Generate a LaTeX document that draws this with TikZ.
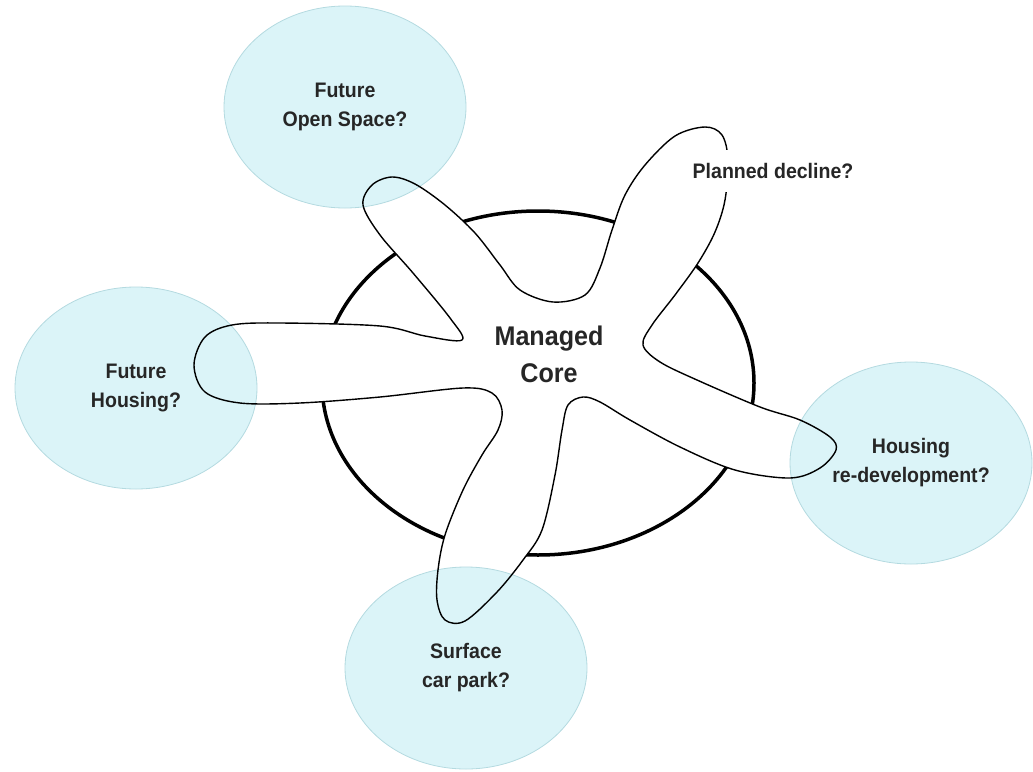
\documentclass[tikz,border=0pt]{standalone}
\usepackage{fontspec}
\setmainfont[FakeStretch=0.93]{Liberation Sans}
\usetikzlibrary{shapes.geometric}
\definecolor{zonefill}{RGB}{219,244,248}
\definecolor{zoneline}{RGB}{180,218,224}
% outline of the starfish, in pixel units
\newcommand\starfish{plot[smooth cycle,tension=0.55] coordinates {
  (363,205) (372,185) (392,177) (415,184) (445,205) (475,233) (500,265)
  (520,290) (553,302) (585,295) (600,268) (612,230) (625,195) (645,165)
  (675,136) (705,127) (722,135) (728,160) (725,200) (715,232) (698,263)
  (675,295) (652,325) (643,345) (660,362) (697,380) (760,407) (800,420)
  (830,437) (836,450) (820,468) (790,478) (735,470) (680,447) (630,420)
  (600,402) (583,397) (568,405) (562,430) (555,475) (542,530) (523,560)
  (497,592) (465,621) (445,620) (437,600) (438,570) (445,535) (463,490)
  (482,455) (498,430) (502,410) (492,393) (463,388) (380,397) (300,403)
  (240,403) (205,392) (194,365) (205,337) (232,325) (280,323) (380,326)
  (425,336) (462,340) (450,318) (413,273) (380,235)}}
\begin{document}
\begin{tikzpicture}[x=1pt,y=-1pt]
    % Styles
    \tikzstyle{core ring}=[line width=3.5pt]
    \tikzstyle{arm}=[line width=1.4pt,line join=round]
    \tikzstyle{zone}=[ellipse,fill=zonefill,draw=zoneline,line width=0.8pt,inner sep=0pt,
        minimum width=242pt,minimum height=202pt,align=center,text=black!85,
        font=\fontsize{21}{29}\selectfont\bfseries]
    \tikzstyle{label text}=[align=center,text=black!85,font=\fontsize{21}{29}\selectfont\bfseries]
    %The graphic
    \useasboundingbox (0,0) rectangle (1033,771);
    %ring
    \draw[core ring] (538,383) ellipse [x radius=216, y radius=172];
    %starfish body
    \fill[white] \starfish;
    %zones
    \node[zone] (openspace) at (345,107) {Future\\Open Space?};
    \node[zone] (housing) at (136,388) {Future\\Housing?};
    \node[zone] (redevelop) at (911,463) {Housing\\re-development?};
    \node[zone] (carpark) at (466,668) {Surface\\car park?};
    %starfish outline
    \draw[arm] \starfish;
    %labels
    \node[label text,font=\fontsize{27}{37}\selectfont\bfseries] (core) at (549,354) {Managed\\Core};
    \node[label text,fill=white,inner xsep=4pt,inner ysep=13pt] (decline) at (773,171) {Planned decline?};
\end{tikzpicture}
\end{document}
